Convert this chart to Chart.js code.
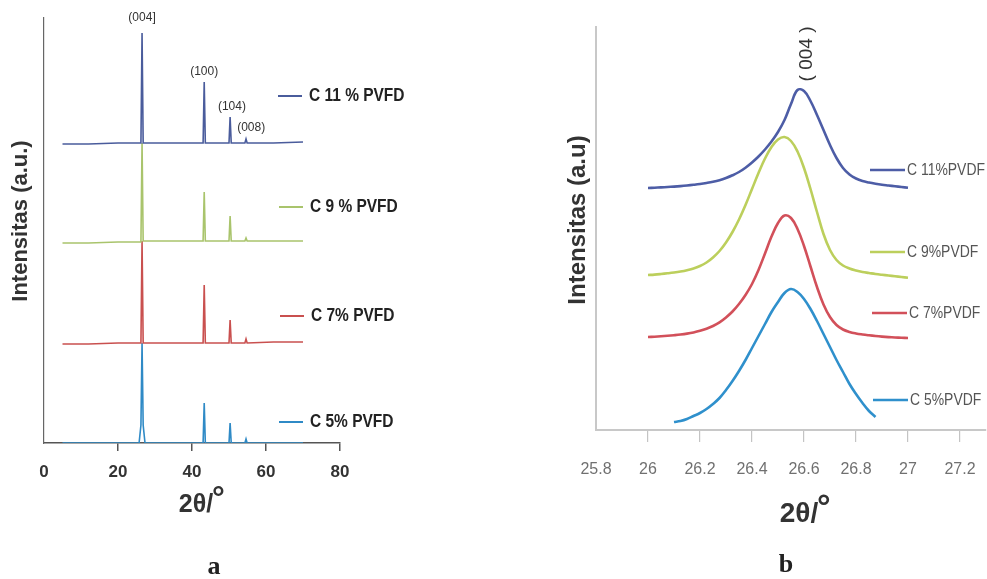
<!DOCTYPE html>
<html>
<head>
<meta charset="utf-8">
<script src="https://cdn.jsdelivr.net/npm/chart.js@4.4.1/dist/chart.umd.min.js"></script>
<style>
  html, body { margin: 0; padding: 0; background: #fff; }
  #wrap { position: relative; width: 987px; height: 579px; overflow: hidden; }
  #chartA { position: absolute; left: 0; top: 0; }
  #chartB { position: absolute; left: 540px; top: 0; }
</style>
</head>
<body>
<div id="wrap">
  <canvas id="chartA" width="540" height="579"></canvas>
  <canvas id="chartB" width="447" height="579"></canvas>
</div>
<script>
// ---- panel a: full XRD patterns ----
const namesA = ["C 11 % PVFD", "C 9 % PVFD", "C 7% PVFD", "C 5% PVFD"];
const ticksA = [0, 20, 40, 60, 80];
const twoThetaA = [5, 12, 20, 25.7, 26.2, 26.5, 26.8, 27.3, 35, 43.0, 43.3, 43.6, 50.0, 50.3, 50.6, 54.3, 54.6, 54.9, 62, 70];
const intensA11 = [299, 299, 300, 300, 300, 410, 300, 300, 300, 300, 361, 300, 300, 326, 300, 300, 304, 300, 300, 301];
const intensA9 = [200, 200, 201, 201, 201, 300, 202, 202, 202, 202, 251, 202, 202, 227, 202, 202, 205, 202, 202, 202];
const intensA7 = [99, 99, 100, 100, 100, 202, 100, 100, 100, 100, 158, 100, 100, 123, 100, 100, 104, 100, 101, 101];
const intensA5 = [0, 0, 0, 0, 18, 100, 18, 0, 0, 0, 40, 0, 0, 20, 0, 0, 4, 0, 0, 0];
const peakNames = ["(004]", "(100)", "(104)", "(008)"];
const peakPos = [26.5, 43.3, 50.3, 54.6];

// ---- panel b: zoom on the (004) peak, 0.025 degree steps ----
const namesB = ["C 11%PVDF", "C 9%PVDF", "C 7%PVDF", "C 5%PVDF"];
const ticksB = [25.8, 26, 26.2, 26.4, 26.6, 26.8, 27, 27.2];
const twoThetaB = [26.000, 26.025, 26.050, 26.075, 26.100, 26.125, 26.150, 26.175, 26.200, 26.225,
  26.250, 26.275, 26.300, 26.325, 26.350, 26.375, 26.400, 26.425, 26.450, 26.475,
  26.500, 26.525, 26.550, 26.575, 26.600, 26.625, 26.650, 26.675, 26.700, 26.725,
  26.750, 26.775, 26.800, 26.825, 26.850, 26.875, 26.900, 26.925, 26.950, 26.975, 27.000];
const intensB11 = [242, 242.3, 242.6, 243, 243.4, 243.9, 244.5, 245.2, 246, 247,
  248.2, 249.8, 252, 254.7, 258, 262.3, 267.5, 273.5, 280.5, 288.5,
  298, 310, 326, 340, 339, 329, 315, 300, 285, 272,
  262, 255.5, 251.5, 249, 247.5, 246.3, 245.3, 244.5, 243.7, 243, 242.3];
const intensB9 = [155, 155.4, 156, 156.7, 157.5, 158.5, 159.8, 161.5, 164, 167.5,
  172.5, 179, 187.5, 198, 210.5, 225, 241, 257, 271.5, 283,
  290.5, 293, 289, 278.5, 262, 241, 218, 196, 180, 170,
  164.5, 161.5, 159.5, 158, 157, 156, 155.2, 154.5, 153.8, 153, 152.3];
const intensB7 = [93, 93.3, 93.7, 94.2, 94.8, 95.5, 96.4, 97.6, 99.2, 101.3,
  104, 107.6, 112.5, 118.5, 126, 135, 146, 160, 176.5, 193.5,
  207, 214.5, 212, 201, 184, 163.5, 143, 125.5, 113, 105,
  100.5, 98, 96.5, 95.5, 94.7, 94, 93.4, 92.9, 92.5, 92.2, 92];
const intensB5 = [null, null, null, null, 8, 9, 11, 14, 17, 21,
  26, 32, 40, 49, 59, 70, 82, 94, 106, 118,
  128, 137, 141, 138, 131, 121, 109, 96, 83, 70,
  58, 46, 36, 27, 19, 13, null, null, null, null, null];

const SANS = "'Liberation Sans', Arial, sans-serif";
const SERIF = "'Liberation Serif', 'Times New Roman', serif";

const toPoints = (xs, ys) => xs.map((x, i) => ({ x: x, y: ys[i] }));

// draws legend entries and free text (titles, peak labels)
const textLayer = {
  id: "textLayer",
  afterDraw(chart, args, opts) {
    const ctx = chart.ctx;
    const sx = chart.scales.x, sy = chart.scales.y;
    ctx.save();
    (opts.legend || []).forEach((pos, i) => {
      const ds = chart.data.datasets[i];
      ctx.strokeStyle = ds.borderColor;
      ctx.lineWidth = opts.legendLineWidth;
      ctx.beginPath();
      ctx.moveTo(pos.x, pos.y);
      ctx.lineTo(pos.x + opts.legendLineLength, pos.y);
      ctx.stroke();
      ctx.save();
      ctx.translate(pos.x + opts.legendLineLength + opts.legendGap, pos.y);
      ctx.scale(opts.legendScaleX || 1, 1);
      ctx.font = opts.legendFont;
      ctx.fillStyle = opts.legendColor;
      ctx.textAlign = "left";
      ctx.textBaseline = "middle";
      ctx.fillText(ds.label, 0, 0);
      ctx.restore();
    });
    (opts.texts || []).forEach(t => {
      let x = t.x, y = t.y;
      if (t.data) {
        x = sx.getPixelForValue(t.x);
        y = sy.getPixelForValue(t.y) + (t.dy || 0);
      }
      ctx.save();
      ctx.translate(x, y);
      if (t.rotate) ctx.rotate(t.rotate);
      if (t.scaleX) ctx.scale(t.scaleX, 1);
      ctx.font = t.font;
      ctx.fillStyle = t.color || "#333";
      ctx.textAlign = t.align || "center";
      ctx.textBaseline = t.baseline || "middle";
      ctx.fillText(t.text, 0, 0);
      ctx.restore();
    });
    ctx.restore();
  }
};

const noEdgePadding = s => { s.paddingLeft = 0; s.paddingRight = 0; };

const colorsA = ["#4a5c9c", "#a9c46c", "#c9504f", "#2f8ac6"];
const seriesA = [intensA11, intensA9, intensA7, intensA5];

new Chart(document.getElementById("chartA"), {
  type: "line",
  data: {
    datasets: seriesA.map((ys, i) => ({
      label: namesA[i],
      data: toPoints(twoThetaA, ys),
      borderColor: colorsA[i],
      borderWidth: 1.6,
      pointRadius: 0,
      tension: 0
    }))
  },
  options: {
    responsive: false,
    animation: false,
    layout: { padding: { left: 44, top: 18, right: 200, bottom: 96 } },
    scales: {
      x: {
        type: "linear", min: 0, max: 80, z: 1,
        afterBuildTicks: s => { s.ticks = ticksA.map(v => ({ value: v })); },
        afterFit: s => { s.height = 40; noEdgePadding(s); },
        grid: {
          drawOnChartArea: false, tickLength: 8, lineWidth: 1.5,
          color: c => (c.tick && c.tick.value === 0 ? "rgba(0,0,0,0)" : "#555")
        },
        border: { color: "#555", width: 1.5 },
        ticks: {
          autoSkip: false, maxRotation: 0, padding: 11, color: "#333",
          font: { family: SANS, size: 17, weight: "bold" }
        }
      },
      y: {
        min: 0, max: 425,
        afterFit: s => { s.width = 0; },
        grid: { display: false },
        border: { color: "#666", width: 1.2 },
        ticks: { display: false }
      }
    },
    plugins: {
      legend: { display: false },
      tooltip: { enabled: false },
      textLayer: {
        legendLineLength: 24, legendLineWidth: 2, legendGap: 7, legendScaleX: 0.86,
        legendFont: "bold 18px " + SANS, legendColor: "#222",
        legend: [{ x: 278, y: 96 }, { x: 279, y: 207 }, { x: 280, y: 316 }, { x: 279, y: 422 }],
        texts: [
          { text: peakNames[0], data: true, x: peakPos[0], y: intensA11[5], dy: -15, font: "12px " + SANS },
          { text: peakNames[1], data: true, x: peakPos[1], y: intensA11[10], dy: -10, font: "12px " + SANS },
          { text: peakNames[2], data: true, x: peakPos[2] + 0.5, y: intensA11[13], dy: -10, font: "12px " + SANS },
          { text: peakNames[3], data: true, x: peakPos[3] + 1.4, y: intensA11[16], dy: -11, font: "12px " + SANS },
          { text: "Intensitas (a.u.)", x: 21, y: 221, rotate: -Math.PI / 2, font: "bold 22px " + SANS, color: "#333" },
          { text: "2θ/", x: 196, y: 512, baseline: "alphabetic", font: "bold 25px " + SANS, color: "#333" },
          { text: "°", x: 212, y: 508, align: "left", baseline: "alphabetic", font: "bold 32px " + SANS, color: "#333" },
          { text: "a", x: 214, y: 567, font: "bold 26px " + SERIF, color: "#222" }
        ]
      }
    }
  },
  plugins: [textLayer]
});

const colorsB = ["#4d5da6", "#bccf5c", "#d2505a", "#2f90cc"];
const seriesB = [intensB11, intensB9, intensB7, intensB5];

new Chart(document.getElementById("chartB"), {
  type: "line",
  data: {
    datasets: seriesB.map((ys, i) => ({
      label: namesB[i],
      data: toPoints(twoThetaB, ys),
      borderColor: colorsB[i],
      borderWidth: 2.6,
      pointRadius: 0,
      tension: 0.4
    }))
  },
  options: {
    responsive: false,
    animation: false,
    layout: { padding: { left: 56, top: 27, right: 1, bottom: 99 } },
    scales: {
      x: {
        type: "linear", min: 25.8, max: 27.3,
        afterBuildTicks: s => { s.ticks = ticksB.map(v => ({ value: v })); },
        afterFit: s => { s.height = 50; noEdgePadding(s); },
        grid: {
          drawOnChartArea: false, tickLength: 12, lineWidth: 1.2,
          color: c => (c.tick && c.tick.value === 25.8 ? "rgba(0,0,0,0)" : "#c4c4c4")
        },
        border: { color: "#c8c8c8", width: 2 },
        ticks: {
          autoSkip: false, maxRotation: 0, padding: 18, color: "#707070",
          font: { family: SANS, size: 16 },
          callback: v => String(+v.toFixed(1))
        }
      },
      y: {
        min: 0, max: 403,
        afterFit: s => { s.width = 0; },
        grid: { display: false },
        border: { color: "#c8c8c8", width: 2 },
        ticks: { display: false }
      }
    },
    plugins: {
      legend: { display: false },
      tooltip: { enabled: false },
      textLayer: {
        legendLineLength: 35, legendLineWidth: 2.6, legendGap: 2, legendScaleX: 0.82,
        legendFont: "17px " + SANS, legendColor: "#555",
        legend: [{ x: 330, y: 170 }, { x: 330, y: 252 }, { x: 332, y: 313 }, { x: 333, y: 400 }],
        texts: [
          { text: "( 004 )", x: 267, y: 54, rotate: -Math.PI / 2, font: "19px " + SANS, color: "#333" },
          { text: "Intensitas (a.u)", x: 38, y: 220, rotate: -Math.PI / 2, font: "bold 24px " + SANS, color: "#333" },
          { text: "2θ/", x: 259, y: 522, baseline: "alphabetic", font: "bold 28px " + SANS, color: "#333" },
          { text: "°", x: 277, y: 518, align: "left", baseline: "alphabetic", font: "bold 34px " + SANS, color: "#333" },
          { text: "b", x: 246, y: 565, font: "bold 26px " + SERIF, color: "#222" }
        ]
      }
    }
  },
  plugins: [textLayer]
});
</script>
</body>
</html>
